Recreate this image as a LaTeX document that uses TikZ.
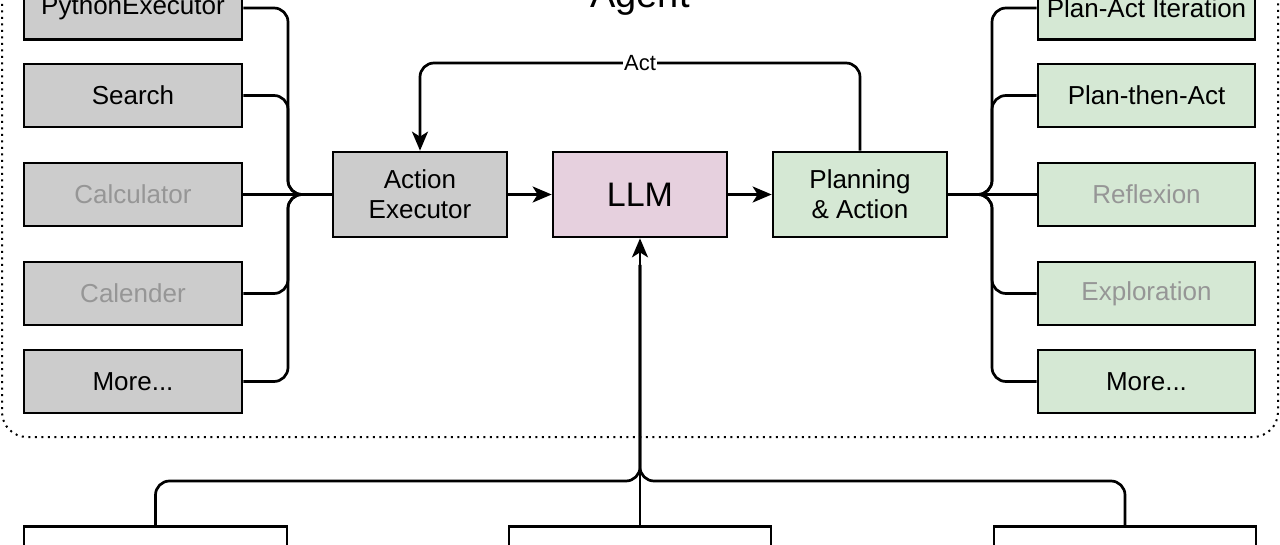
\documentclass[tikz,border=0pt]{standalone}
\usepackage{fontspec}
\setmainfont{Liberation Sans}
\usetikzlibrary{arrows.meta}
\definecolor{boxgray}{RGB}{204,204,204}
\definecolor{boxgreen}{RGB}{213,232,212}
\definecolor{boxpink}{RGB}{230,208,222}
\definecolor{textgray}{RGB}{150,150,150}
\tikzset{
  base/.style={draw=black, line width=2.7pt, inner sep=0pt, align=center,
    font=\fontsize{26}{30}\selectfont},
  tool/.style={base, fill=boxgray, minimum width=218pt, minimum height=63pt},
  plan/.style={base, fill=boxgreen, minimum width=217pt, minimum height=63pt},
  core/.style={base, minimum width=174pt, minimum height=85pt},
  bottombox/.style={draw=black, line width=2.7pt, fill=white, inner sep=0pt},
  conn/.style={draw=black, line width=2.7pt, rounded corners=14pt},
  tip/.style={-{Stealth[length=19pt,width=16pt,inset=5pt]}},
  faded/.style={text=textgray}
}
\begin{document}
\begin{tikzpicture}[x=1pt,y=-1pt]
\useasboundingbox (0,0) rectangle (1280,545);
\clip (0,0) rectangle (1280,545);
\fill[white] (0,0) rectangle (1280,545);

% Agent container
\draw[line width=2pt, dash pattern=on 2pt off 4.5pt, rounded corners=25pt]
  (2,-60) rectangle (1278,437);
\node[anchor=base, font=\fontsize{38}{40}\selectfont] (agent) at (640,8) {Agent};

% left tools
\node[tool] (py)   at (133,8)    {PythonExecutor};
\node[tool] (srch) at (133,95.5) {Search};
\node[tool, faded] (calc) at (133,194.5) {Calculator};
\node[tool, faded] (cal)  at (133,293.5) {Calender};
\node[tool] (moreL) at (133,381.5) {More...};

% right plans
\node[plan] (pai) at (1146.5,8)    {Plan-Act Iteration};
\node[plan] (pta) at (1146.5,95.5) {Plan-then-Act};
\node[plan, faded] (refl) at (1146.5,194.5) {Reflexion};
\node[plan, faded] (expl) at (1146.5,293.5) {Exploration};
\node[plan] (moreR) at (1146.5,381.5) {More...};

% core
\node[core, fill=boxgray]  (ae)  at (420,194.5) {Action\\Executor};
\node[core, fill=boxpink, font=\fontsize{34}{40}\selectfont] (llm) at (640,194.5) {LLM};
\node[core, fill=boxgreen] (pa)  at (860,194.5) {Planning\\\& Action};

% bottom boxes (cut off)
\node[bottombox, minimum width=263pt, minimum height=80pt, anchor=north] (b1) at (155.5,525) {};
\node[bottombox, minimum width=262pt, minimum height=80pt, anchor=north] (b2) at (640,525) {};
\node[bottombox, minimum width=262pt, minimum height=80pt, anchor=north] (b3) at (1125,525) {};

% junction coordinates
\coordinate (lj) at (288,194.5);
\coordinate (rj) at (992,194.5);
\coordinate (bj) at (640,481);
\coordinate (lt) at (640,265);
\coordinate (actL) at (420,63);

% left connectors
\draw[conn] (py.east)    -| (lj) -- (ae.west);
\draw[conn] (srch.east)  -| (lj) -- (ae.west);
\draw[conn] (calc.east)  -- (ae.west);
\draw[conn] (cal.east)   -| (lj) -- (ae.west);
\draw[conn] (moreL.east) -| (lj) -- (ae.west);

% right connectors
\draw[conn] (pa.east) -- (rj) |- (pai.west);
\draw[conn] (pa.east) -- (rj) |- (pta.west);
\draw[conn] (pa.east) -- (refl.west);
\draw[conn] (pa.east) -- (rj) |- (expl.west);
\draw[conn] (pa.east) -- (rj) |- (moreR.west);

% main flow
\draw[conn, tip] (ae.east) -- (llm.west);
\draw[conn, tip] (llm.east) -- (pa.west);

% Act loop
\draw[conn, tip] (pa.north) |- (actL) -- (ae.north);
\node[fill=white, inner sep=1pt, font=\fontsize{22}{24}\selectfont] (act) at (640,63) {Act};

% bottom inputs
\draw[conn] (b1.north) |- (bj) -- (lt);
\draw[conn] (b3.north) |- (bj) -- (lt);
\draw[conn, tip] (b2.north) -- (llm.south);
\end{tikzpicture}
\end{document}
